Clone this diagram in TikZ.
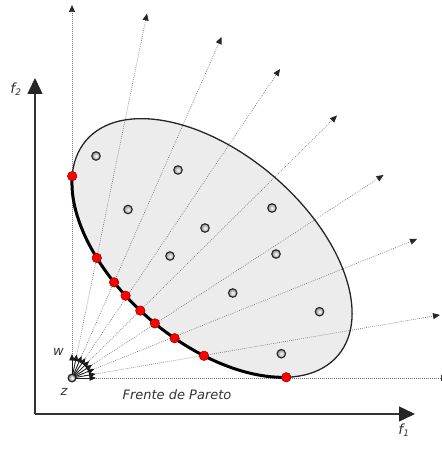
\documentclass[tikz,border=0pt]{standalone}
\usepackage{fontspec}
\setsansfont{DejaVu Sans}
\usetikzlibrary{arrows.meta,calc}
\definecolor{ellfill}{HTML}{ECECEC}
\definecolor{txt}{HTML}{333333}
\begin{document}
\begin{tikzpicture}[x=1pt,y=1pt,
  axis/.style={draw=black!80, line width=1.4pt, -{Triangle[length=16pt,width=15pt,color=black!85,fill=black!85]}},
  ray/.style={draw=black!55, line width=0.7pt, dash pattern=on 0.7pt off 1.3pt, -{Triangle[length=7pt,width=6pt,color=black!85,fill=black!85]}},
  warrow/.style={draw=black!90, line width=0.8pt, -{Triangle[length=6.5pt,width=5.5pt,color=black!90,fill=black!90]}},
  front/.style={draw=black, line width=3pt},
  ellborder/.style={draw=black!85, line width=1.3pt},
  graypt/.style={circle, inner sep=0pt, minimum size=8.5pt, draw=black!85, line width=1.1pt, inner color=white, outer color=black!45},
  redpt/.style={circle, inner sep=0pt, minimum size=9.5pt, fill=red, draw=red!55!black, line width=0.5pt},
  lbl/.style={text=txt, font=\sffamily\itshape\fontsize{13}{15}\selectfont, inner sep=0pt},
  axlbl/.style={text=txt, font=\sffamily\itshape\fontsize{14}{16}\selectfont, inner sep=0pt}
]
\useasboundingbox (0,0) rectangle (441,449);

% axes
\coordinate (O) at (35,35);
\coordinate (Ytip) at (35,371);
\coordinate (Xtip) at (415,35);
\draw[axis] (O) -- (Ytip);
\draw[axis] (O) -- (Xtip);

% ellipse fill
\begin{scope}[shift={(212pt,201pt)}, rotate=-40.5]
  \fill[ellfill] (0,0) ellipse [x radius=165.6pt, y radius=94.5pt];
\end{scope}

% reference point z and ray ends
\node[graypt, minimum size=7.5pt] (z) at (72,71) {};
\coordinate (e1) at (72,444);
\coordinate (e2) at (147,435.5);
\coordinate (e3) at (221.5,412);
\coordinate (e4) at (280,380);
\coordinate (e5) at (337,333.5);
\coordinate (e6) at (383.5,274);
\coordinate (e7) at (417,210);
\coordinate (e8) at (440,134);
\coordinate (e9) at (448,71);

\foreach \e in {e1,e2,e3,e4,e5,e6,e7,e8,e9}
  \draw[ray] (z) -- (\e);

% ellipse border, front and points
\begin{scope}[shift={(212pt,201pt)}, rotate=-40.5]
  \draw[ellborder] (0,0) ellipse [x radius=165.6pt, y radius=94.5pt];
  \draw[front] (202.5:165.6pt and 94.5pt) arc[start angle=202.5, end angle=328, x radius=165.6pt, y radius=94.5pt];
\end{scope}

\node[graypt] (g1) at (96,293) {};
\node[graypt] (g2) at (178,279) {};
\node[graypt] (g3) at (128,239.5) {};
\node[graypt] (g4) at (272,241) {};
\node[graypt] (g5) at (205,221) {};
\node[graypt] (g6) at (170,193) {};
\node[graypt] (g7) at (276,195) {};
\node[graypt] (g8) at (232.7,156) {};
\node[graypt] (g9) at (319.5,137.3) {};
\node[graypt] (g10) at (281.3,95.3) {};

\begin{scope}[shift={(212pt,201pt)}, rotate=-40.5]
  \foreach \t [count=\i] in {202.5,240.65,251.64,257.9,265.2,271.9,280.5,292.7,328.0}
    \node[redpt] (p\i) at (\t:165.6pt and 94.5pt) {};
\end{scope}

% weight vectors
\foreach \e in {e1,e2,e3,e4,e5,e6,e7,e8,e9}
  \draw[warrow] (z.center) -- ($(z.center)!24pt!(\e)$);
\node[graypt, minimum size=7.5pt] at (z) {};

% labels
\node[lbl] (wl) at (58.5,97.5) {w};
\node[lbl] (zl) at (64,57) {z};
\node[lbl] (pf) at (177,54) {Frente de Pareto};
\node[axlbl] (f1) at (404,19) {f\textsubscript{\fontsize{9}{10}\selectfont 1}};
\node[axlbl] (f2) at (16,360) {f\textsubscript{\fontsize{9}{10}\selectfont 2}};
\end{tikzpicture}
\end{document}
